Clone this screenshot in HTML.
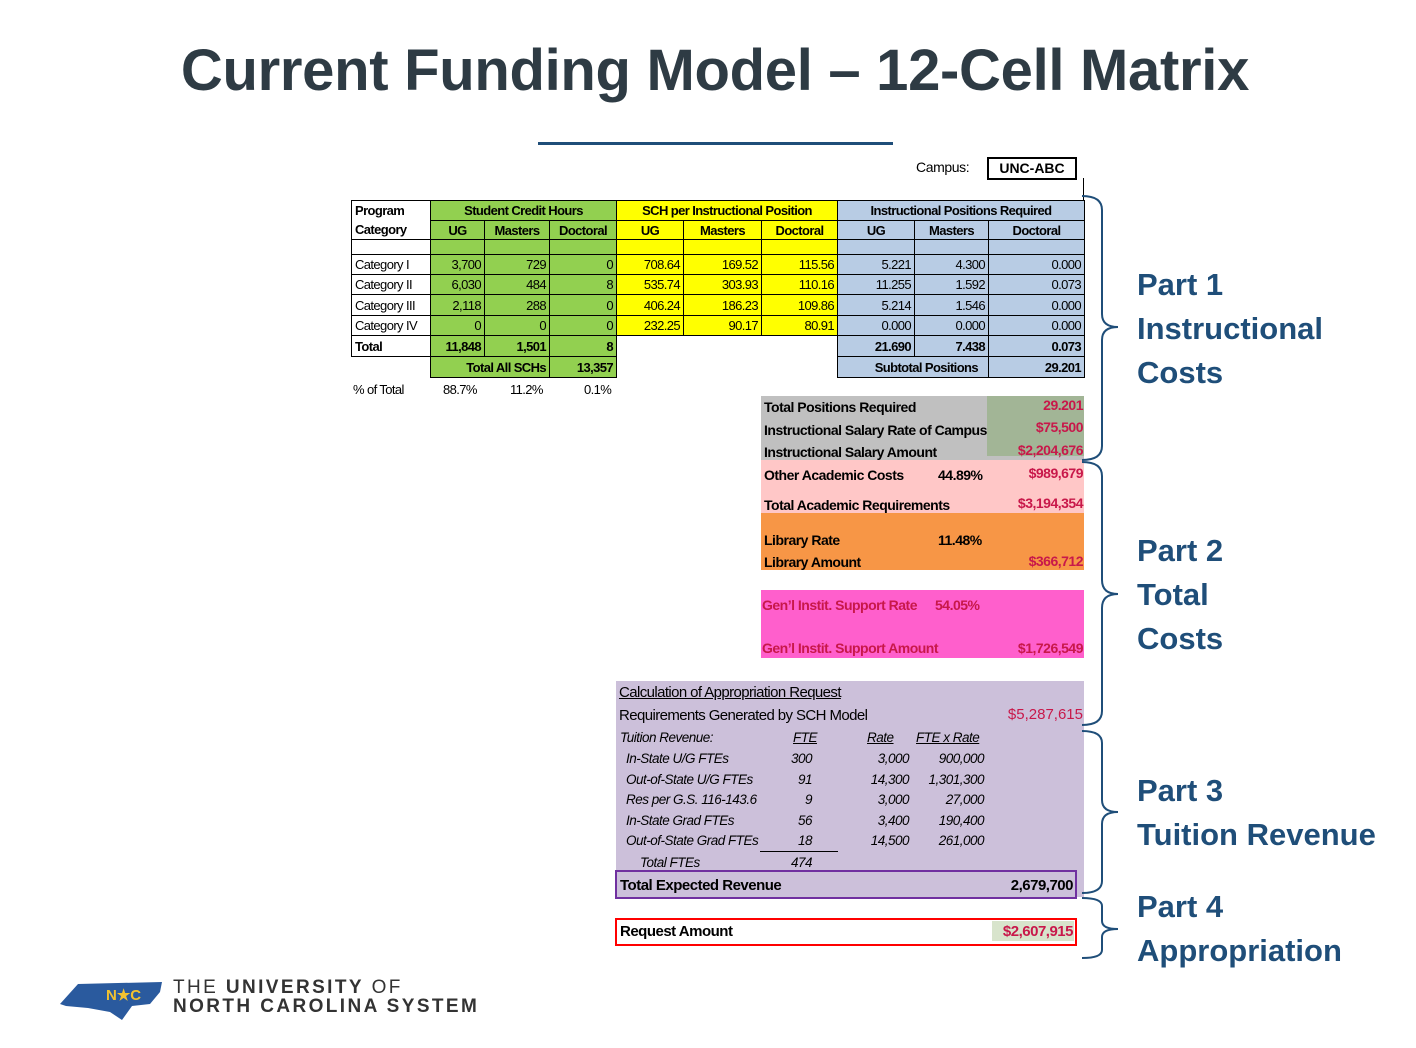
<!DOCTYPE html>
<html><head><meta charset="utf-8"><style>
body{margin:0;width:1416px;height:1048px;background:#fff;position:relative;overflow:hidden;font-family:"Liberation Sans",sans-serif}
.a{position:absolute}
h1{position:absolute;left:0;width:1430px;top:37px;margin:0;text-align:center;font-size:58px;font-weight:bold;color:#2e3b44;letter-spacing:-0.3px}
table{border-collapse:collapse;table-layout:fixed;font-size:13px;letter-spacing:-0.6px;position:absolute;left:351px;top:200px}
td{border:1px solid #000;padding:0 3px;white-space:nowrap;overflow:hidden;text-align:right}
.g{background:#92d050}.y{background:#ffff00}.b{background:#b8cce4}
.h td{font-weight:bold;text-align:center}
.h td.l,.l{text-align:left}
.n{border:none;background:#fff}
.bo{font-weight:bold}
.t{font-size:14px;letter-spacing:-0.5px;font-weight:bold;white-space:nowrap}
.r{color:#c8184a}
.part{position:absolute;left:1137px;font-size:31px;font-weight:bold;color:#1f4e79;line-height:44px}
.it{font-style:italic;font-size:13.5px;letter-spacing:-0.5px;position:absolute;white-space:nowrap}
</style></head><body>
<h1>Current Funding Model – 12-Cell Matrix</h1>
<div class="a" style="left:538px;top:142px;width:355px;height:3px;background:#1f4e79"></div>
<div class="a" style="left:916px;top:159px;font-size:14px;letter-spacing:-0.4px">Campus:</div>
<div class="a" style="left:987px;top:157px;width:86px;height:19px;border:2px solid #000;text-align:center;font-size:14px;font-weight:bold;line-height:19px">UNC-ABC</div>
<div class="a" style="left:1083px;top:178px;width:1px;height:22px;background:#000"></div>

<table>
<colgroup><col style="width:79px"><col style="width:54px"><col style="width:65px"><col style="width:67px"><col style="width:67px"><col style="width:78px"><col style="width:76px"><col style="width:77px"><col style="width:74px"><col style="width:96px"></colgroup>
<tr class="h" style="height:20px"><td class="l" style="border-bottom:none;background:#fff">Program</td><td class="g" colspan="3">Student Credit Hours</td><td class="y" colspan="3">SCH per Instructional Position</td><td class="b" colspan="3">Instructional Positions Required</td></tr>
<tr class="h" style="height:19px"><td class="l" style="border-top:none;background:#fff">Category</td><td class="g">UG</td><td class="g">Masters</td><td class="g">Doctoral</td><td class="y">UG</td><td class="y">Masters</td><td class="y">Doctoral</td><td class="b">UG</td><td class="b">Masters</td><td class="b">Doctoral</td></tr>
<tr style="height:15px"><td></td><td class="g"></td><td class="g"></td><td class="g"></td><td class="y"></td><td class="y"></td><td class="y"></td><td class="b"></td><td class="b"></td><td class="b"></td></tr>
<tr style="height:20px"><td class="l">Category I</td><td class="g">3,700</td><td class="g">729</td><td class="g">0</td><td class="y">708.64</td><td class="y">169.52</td><td class="y">115.56</td><td class="b">5.221</td><td class="b">4.300</td><td class="b">0.000</td></tr>
<tr style="height:20px"><td class="l">Category II</td><td class="g">6,030</td><td class="g">484</td><td class="g">8</td><td class="y">535.74</td><td class="y">303.93</td><td class="y">110.16</td><td class="b">11.255</td><td class="b">1.592</td><td class="b">0.073</td></tr>
<tr style="height:21px"><td class="l">Category III</td><td class="g">2,118</td><td class="g">288</td><td class="g">0</td><td class="y">406.24</td><td class="y">186.23</td><td class="y">109.86</td><td class="b">5.214</td><td class="b">1.546</td><td class="b">0.000</td></tr>
<tr style="height:20px"><td class="l">Category IV</td><td class="g">0</td><td class="g">0</td><td class="g">0</td><td class="y">232.25</td><td class="y">90.17</td><td class="y">80.91</td><td class="b">0.000</td><td class="b">0.000</td><td class="b">0.000</td></tr>
<tr style="height:21px" class="bo"><td class="l">Total</td><td class="g">11,848</td><td class="g">1,501</td><td class="g">8</td><td class="n"></td><td class="n"></td><td class="n"></td><td class="b">21.690</td><td class="b">7.438</td><td class="b">0.073</td></tr>
<tr style="height:21px" class="bo"><td class="n"></td><td class="g" colspan="2" style="text-align:right">Total All SCHs</td><td class="g">13,357</td><td class="n"></td><td class="n"></td><td class="n"></td><td class="b" colspan="2" style="text-align:right;padding-right:10px">Subtotal Positions</td><td class="b">29.201</td></tr>
</table>
<div class="a" style="left:353px;top:382px;font-size:13px;letter-spacing:-0.6px">% of Total</div>
<div class="a" style="left:443px;top:382px;font-size:13px;letter-spacing:-0.6px">88.7%</div>
<div class="a" style="left:510px;top:382px;font-size:13px;letter-spacing:-0.6px">11.2%</div>
<div class="a" style="left:584px;top:382px;font-size:13px;letter-spacing:-0.6px">0.1%</div>

<div class="a" style="left:761px;top:396px;width:323px;height:64px;background:#c0c0c0"></div>
<div class="a" style="left:987px;top:396px;width:97px;height:60px;background:#a2b596"></div>
<div class="a t" style="left:764px;top:399px">Total Positions Required</div>
<div class="a t" style="left:764px;top:422px">Instructional Salary Rate of Campus</div>
<div class="a t" style="left:764px;top:444px">Instructional Salary Amount</div>
<div class="a t r" style="right:333px;top:397px">29.201</div>
<div class="a t r" style="right:333px;top:419px">$75,500</div>
<div class="a t r" style="right:333px;top:442px">$2,204,676</div>
<div class="a" style="left:761px;top:460px;width:323px;height:53px;background:#ffc7c7"></div>
<div class="a t" style="left:764px;top:467px">Other Academic Costs</div>
<div class="a t" style="left:938px;top:467px">44.89%</div>
<div class="a t r" style="right:333px;top:465px">$989,679</div>
<div class="a t" style="left:764px;top:497px">Total Academic Requirements</div>
<div class="a t r" style="right:333px;top:495px">$3,194,354</div>
<div class="a" style="left:761px;top:513px;width:323px;height:57px;background:#f79646"></div>
<div class="a t" style="left:764px;top:532px">Library Rate</div>
<div class="a t" style="left:938px;top:532px">11.48%</div>
<div class="a t" style="left:764px;top:554px">Library Amount</div>
<div class="a t r" style="right:333px;top:553px">$366,712</div>
<div class="a" style="left:761px;top:590px;width:323px;height:68px;background:#ff5fcc"></div>
<div class="a t r" style="left:762px;top:597px">Gen’l Instit. Support Rate</div>
<div class="a t r" style="left:935px;top:597px">54.05%</div>
<div class="a t r" style="left:762px;top:640px">Gen’l Instit. Support Amount</div>
<div class="a t r" style="right:333px;top:640px">$1,726,549</div>
<div class="a" style="left:616px;top:681px;width:468px;height:216px;background:#ccc0da"></div>
<div class="a" style="left:619px;top:684px;font-size:15px;letter-spacing:-0.6px;text-decoration:underline">Calculation of Appropriation Request</div>
<div class="a" style="left:619px;top:707px;font-size:15px;letter-spacing:-0.6px">Requirements Generated by SCH Model</div>
<div class="a r" style="right:333px;top:706px;font-size:15px">$5,287,615</div>
<div class="it" style="left:620px;top:730px">Tuition Revenue:</div>
<div class="it" style="left:793px;top:730px;text-decoration:underline">FTE</div>
<div class="it" style="left:867px;top:730px;text-decoration:underline">Rate</div>
<div class="it" style="left:916px;top:730px;text-decoration:underline">FTE x Rate</div>
<div class="it" style="left:626px;top:751px">In-State U/G FTEs</div>
<div class="it" style="left:626px;top:772px">Out-of-State U/G FTEs</div>
<div class="it" style="left:626px;top:792px">Res per G.S. 116-143.6</div>
<div class="it" style="left:626px;top:813px">In-State Grad FTEs</div>
<div class="it" style="left:626px;top:833px">Out-of-State Grad FTEs</div>
<div class="it" style="left:640px;top:855px">Total FTEs</div>
<div class="it" style="right:604px;top:751px;text-align:right">300</div>
<div class="it" style="right:604px;top:772px">91</div>
<div class="it" style="right:604px;top:792px">9</div>
<div class="it" style="right:604px;top:813px">56</div>
<div class="it" style="right:604px;top:833px">18</div>
<div class="it" style="right:604px;top:855px">474</div>
<div class="a" style="left:760px;top:851px;width:78px;height:1px;background:#000"></div>
<div class="it" style="right:507px;top:751px">3,000</div>
<div class="it" style="right:507px;top:772px">14,300</div>
<div class="it" style="right:507px;top:792px">3,000</div>
<div class="it" style="right:507px;top:813px">3,400</div>
<div class="it" style="right:507px;top:833px">14,500</div>
<div class="it" style="right:432px;top:751px">900,000</div>
<div class="it" style="right:432px;top:772px">1,301,300</div>
<div class="it" style="right:432px;top:792px">27,000</div>
<div class="it" style="right:432px;top:813px">190,400</div>
<div class="it" style="right:432px;top:833px">261,000</div>
<div class="a" style="left:615px;top:870px;width:458px;height:25px;border:2px solid #7030a0"></div>
<div class="a t" style="left:620px;top:877px;font-size:15px">Total Expected Revenue</div>
<div class="a t" style="right:343px;top:877px;font-size:15px">2,679,700</div>
<div class="a" style="left:615px;top:918px;width:458px;height:24px;border:2px solid #ff0000"></div>
<div class="a" style="left:992px;top:921px;width:82px;height:20px;background:#d8e4cc"></div>
<div class="a t" style="left:620px;top:923px;font-size:15px">Request Amount</div>
<div class="a t r" style="right:343px;top:923px;font-size:15px">$2,607,915</div>

<svg class="a" style="left:1080px;top:190px" width="50" height="780">
<g fill="none" stroke="#1f4e79" stroke-width="2">
<path d="M2 6 Q22 6 22 20 L22 124 Q22 137 38 137 Q22 137 22 150 L22 256 Q22 270 2 270"/>
<path d="M2 272 Q22 272 22 286 L22 390 Q22 404 38 404 Q22 404 22 418 L22 521 Q22 535 2 535"/>
<path d="M2 541 Q22 541 22 553 L22 610 Q22 622 38 622 Q22 622 22 634 L22 691 Q22 703 2 703"/>
<path d="M2 708 Q22 708 22 716 L22 731 Q22 739 38 739 Q22 739 22 747 L22 760 Q22 768 2 768"/>
</g></svg>
<div class="part" style="top:263px">Part 1<br>Instructional<br>Costs</div>
<div class="part" style="top:529px">Part 2<br>Total<br>Costs</div>
<div class="part" style="top:769px">Part 3<br>Tuition Revenue</div>
<div class="part" style="top:885px">Part 4<br>Appropriation</div>

<svg class="a" style="left:58px;top:978px" width="110" height="46">
<path d="M2 26 L20 6 L104 4 L102 14 L92 26 L74 28 L64 42 L52 34 L30 30 L8 28 Z" fill="#2a5a9e"/>
<text x="48" y="22" font-family="Liberation Sans" font-size="15" font-weight="bold" fill="#f2c230">N★C</text>
</svg>
<div class="a" style="left:173px;top:978px;font-size:19px;letter-spacing:2.4px;color:#333;line-height:19px">THE <b>UNIVERSITY</b> OF<br><b>NORTH CAROLINA SYSTEM</b></div>
</body></html>
